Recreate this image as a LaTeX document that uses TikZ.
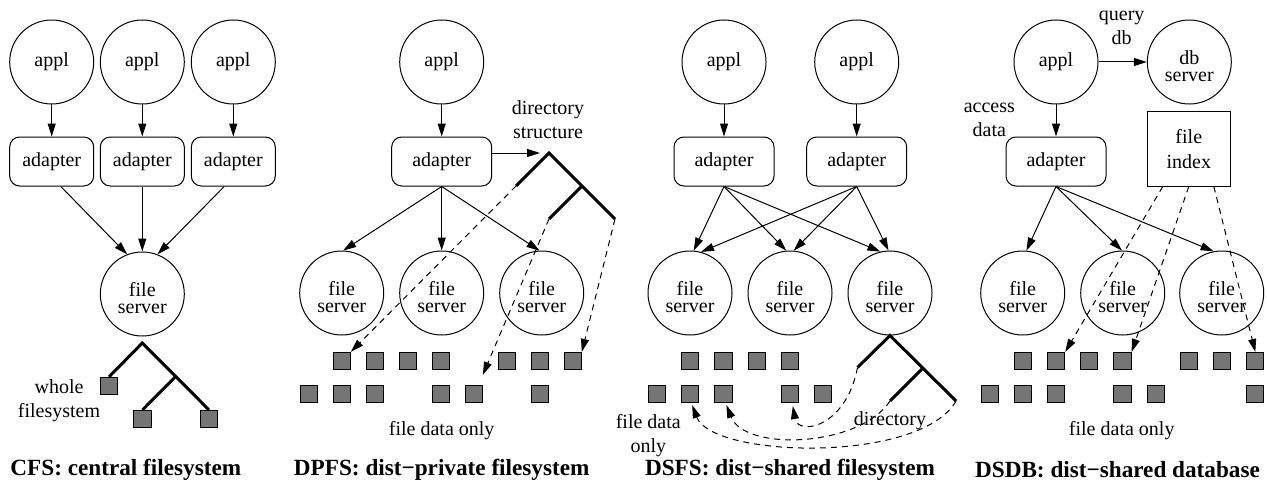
\documentclass[tikz,border=0pt]{standalone}
\usepackage{fontspec}
\setmainfont{Liberation Serif}
\usetikzlibrary{arrows.meta,calc}
\newcommand{\toppad}{\rule{0pt}{10.8pt}}
\begin{document}
\begin{tikzpicture}[x=0.5pt,y=-0.5pt,line width=0.5pt,
  every node/.style={font=\fontsize{10}{12}\selectfont},
  circ/.style={draw,circle,minimum size=42pt,inner sep=0pt,align=center,font=\fontsize{10}{8.4}\selectfont},
  adap/.style={draw,rounded corners=5pt,minimum width=50pt,minimum height=24.5pt,inner sep=0pt},
  adapn/.style={adap,minimum width=42pt},
  idx/.style={draw,minimum width=41.2pt,minimum height=37.2pt,inner sep=0pt,align=center,font=\fontsize{10}{12.5}\selectfont},
  sq/.style={draw,fill=black!54,minimum size=8.6pt,inner sep=0pt},
  arr/.style={-{Triangle[length=6.5pt,width=4pt]}},
  darr/.style={arr,dash pattern=on 3pt off 2.5pt},
  tree/.style={line width=1.5pt},
  lbl/.style={align=center},
  ttl/.style={font=\bfseries\fontsize{11.6}{13}\selectfont}
]
\useasboundingbox (0,0) rectangle (1267,481);

% ---------------- Panel 1: CFS
\foreach \i/\x in {1/51.7,2/142.3,3/233.3}{
  \node[circ] (p1a\i) at (\x,62) {appl};
  \node[adapn] (p1d\i) at (\x,161.5) {adapter};
  \draw[arr] (p1a\i.south) -- (p1d\i.north);
}
\node[circ] (p1f) at (142.3,294) {\toppad file\\server};
\draw[arr] (p1d1.-70) -- (p1f.111);
\draw[arr] (p1d2.south) -- (p1f.north);
\draw[arr] (p1d3.-110) -- (p1f.69);
\coordinate (p1t) at (142.3,343);
\node[sq] (p1s1) at (109,386) {};
\node[sq] (p1s2) at (142.5,419) {};
\node[sq] (p1s3) at (209,419) {};
\coordinate (p1m) at ($(p1t)!0.5!(p1s3.north)$);
\draw[tree] (p1s1.north) -- (p1t) -- (p1s3.north);
\draw[tree] (p1m) -- (p1s2.north);
\node[lbl] (p1lab) at (59,401) {whole\\filesystem};
\node[ttl] (p1title) at (125.8,470) {CFS: central filesystem};

% ---------------- Panel 2: DPFS
\node[circ] (p2a) at (441.7,62) {appl};
\node[adap] (p2d) at (441.7,161.5) {adapter};
\draw[arr] (p2a.south) -- (p2d.north);
\node[circ] (p2f1) at (341.7,293) {\toppad file\\server};
\node[circ] (p2f2) at (441.7,293) {\toppad file\\server};
\node[circ] (p2f3) at (541.7,293) {\toppad file\\server};
\draw[arr] (p2d.south) -- (p2f1.88);
\draw[arr] (p2d.south) -- (p2f2.north);
\draw[arr] (p2d.south) -- (p2f3.93);
\coordinate (p2t) at (549,153);
\coordinate (p2l1) at (516,186);
\coordinate (p2m) at (582,186);
\coordinate (p2l2) at (549,219);
\coordinate (p2l3) at (615,219);
\draw[tree] (p2l1) -- (p2t) -- (p2l3);
\draw[tree] (p2m) -- (p2l2);
\draw[arr,shorten >=4.5pt] (p2d.east |- p2t) -- (p2t);
\node[lbl] (p2lab1) at (548,120) {directory\\structure};
\foreach \k in {1,2,3,4,6,7,8} \node[sq] (p2r1\k) at ({308.7+33*\k},361) {};
\foreach \k in {0,1,2,4,5,7} \node[sq] (p2r2\k) at ({308.7+33*\k},394) {};
\draw[darr] (p2l1) -- (p2r11.north east);
\draw[darr] (p2l2) -- ($(p2r25.north east)+(0,-10)$);
\draw[darr] (p2l3) -- (p2r18.north east);
\node (p2lab2) at (441.7,431) {file data only};
\node[ttl] (p2title) at (441.7,470) {DPFS: dist−private filesystem};

% ---------------- Panel 3: DSFS
\node[circ] (p3a1) at (724,62) {appl};
\node[circ] (p3a2) at (856.7,62) {appl};
\node[adap] (p3d1) at (724,161.5) {adapter};
\node[adap] (p3d2) at (856.7,161.5) {adapter};
\draw[arr] (p3a1.south) -- (p3d1.north);
\draw[arr] (p3a2.south) -- (p3d2.north);
\node[circ] (p3f1) at (690,293) {\toppad file\\server};
\node[circ] (p3f2) at (790,293) {\toppad file\\server};
\node[circ] (p3f3) at (890,293) {\toppad file\\server};
\draw[arr] (p3d1.south) -- (p3f1.85);
\draw[arr] (p3d1.south) -- (p3f2.95);
\draw[arr] (p3d1.south) -- (p3f3.103);
\draw[arr] (p3d2.south) -- (p3f1.75);
\draw[arr] (p3d2.south) -- (p3f2.85);
\draw[arr] (p3d2.south) -- (p3f3.92);
\foreach \k in {1,2,3,4} \node[sq] (p3r1\k) at ({657+33.2*\k},361) {};
\foreach \k in {0,1,2,4,5} \node[sq] (p3r2\k) at ({657+33.2*\k},394) {};
\coordinate (p3l1) at (857.5,367.5);
\coordinate (p3m) at (923,368);
\coordinate (p3l2) at (890,401);
\coordinate (p3l3) at (956,401);
\draw[tree] (p3l1) -- (p3f3.south) -- (p3l3);
\draw[tree] (p3m) -- (p3l2);
\draw[darr] (p3l1) .. controls (846,428) and (798,436) .. ($(p3r24.south)+(3,3)$);
\draw[darr] (p3l2) .. controls (860,447) and (745,452) .. ($(p3r22.south)+(3,2)$);
\draw[darr] (p3l3) .. controls (920,464) and (712,458) .. ($(p3r21.south)+(2,2)$);
\node[lbl] (p3lab1) at (648.3,436) {file data\\only};
\node (p3lab2) at (890,421) {directory};
\node[ttl] (p3title) at (790,470) {DSFS: dist−shared filesystem};

% ---------------- Panel 4: DSDB
\node[circ] (p4a) at (1056,62) {appl};
\node[circ] (p4db) at (1189.3,62) {\toppad db\\server};
\draw[arr] (p4a.east) -- (p4db.west);
\node[lbl] (p4lab1) at (1121.7,28) {query\\db};
\node[adap] (p4d) at (1056,161.5) {adapter};
\draw[arr] (p4a.south) -- (p4d.north);
\node[lbl] (p4lab2) at (989.3,120) {access\\data};
\node[idx] (p4fi) at (1188.8,148.8) {file\\index};
\node[circ] (p4f1) at (1022.7,293) {\toppad file\\server};
\node[circ] (p4f2) at (1122.7,293) {\toppad file\\server};
\node[circ] (p4f3) at (1221.7,293) {\toppad file\\server};
\draw[arr] (p4d.south) -- (p4f1.85);
\draw[arr] (p4d.south) -- (p4f2.91);
\draw[arr] (p4d.south) -- (p4f3.101);
\foreach \k in {1,2,3,4,6,7,8} \node[sq] (p4r1\k) at ({989.7+33.2*\k},361) {};
\foreach \k in {0,1,2,4,5,8} \node[sq] (p4r2\k) at ({989.7+33.2*\k},394) {};
\draw[darr] ($(p4fi.south)+(-26,0)$) -- (p4r12.north east);
\draw[darr] (p4fi.south) -- (p4r14.north east);
\draw[darr] ($(p4fi.south)+(25,0)$) -- (p4r18.north);
\node (p4lab3) at (1121.7,431) {file data only};
\node[ttl] (p4title) at (1117.5,470) {DSDB: dist−shared database};
\end{tikzpicture}
\end{document}
